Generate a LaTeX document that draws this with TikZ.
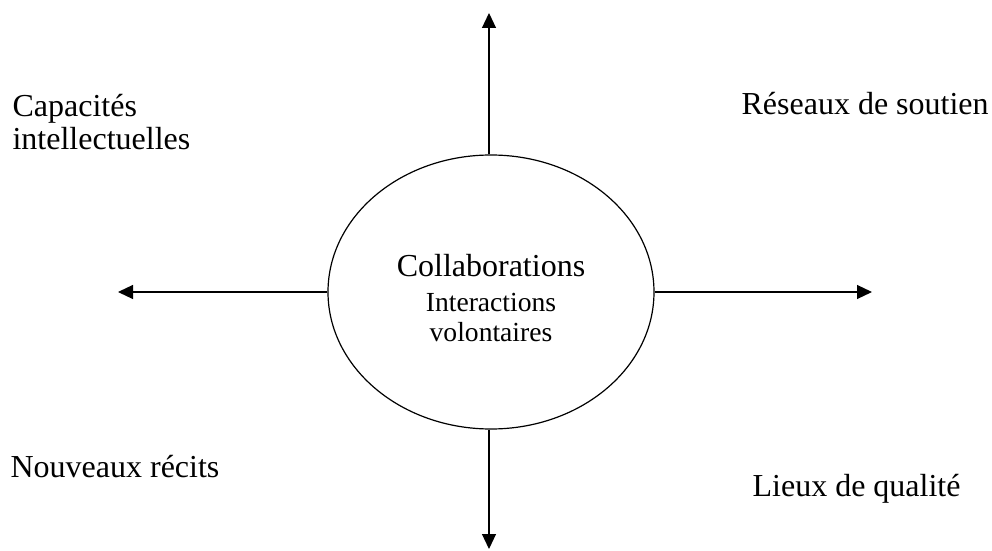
\documentclass[tikz,border=0pt]{standalone}
\usepackage{fontspec}
\setmainfont{Liberation Serif}
\usetikzlibrary{shapes.geometric,arrows.meta}
\begin{document}
\begin{tikzpicture}[x=0.5pt, y=-0.5pt, line width=0.6pt, line join=round, >={Triangle[length=7.5pt,width=7pt]}]
		\tikzset{lbl/.style={font=\fontsize{16}{17}\selectfont, inner sep=0pt, align=left}}
		\useasboundingbox (0,0) rectangle (992,551);
		\node[ellipse, draw, minimum width=163pt, minimum height=137pt, inner sep=0pt] (collab) at (491,292) {};
		\node[align=center, inner sep=0pt, font=\fontsize{13.8}{15}\selectfont] (texte) at (491,298)
			{{\fontsize{16}{17.5}\selectfont Collaborations}\\[2.5pt]Interactions\\volontaires};
		\coordinate (haut) at (489,13);
		\coordinate (bas) at (489,549);
		\coordinate (gauche) at (118,292);
		\coordinate (droite) at (872,292);
		\draw[->] (collab.north -| haut) -- (haut);
		\draw[->] (collab.south -| bas) -- (bas);
		\draw[->] (collab.west) -- (gauche);
		\draw[->] (collab.east) -- (droite);
		\node[lbl, anchor=base west] (capacites) at (12,150) {Capacités\\intellectuelles};
		\node[lbl, anchor=base west] (reseaux) at (741,115) {Réseaux de soutien};
		\node[lbl, anchor=base west] (recits) at (10,477) {Nouveaux récits};
		\node[lbl, anchor=base west] (lieux) at (752,496) {Lieux de qualité};
		\end{tikzpicture}
\end{document}
